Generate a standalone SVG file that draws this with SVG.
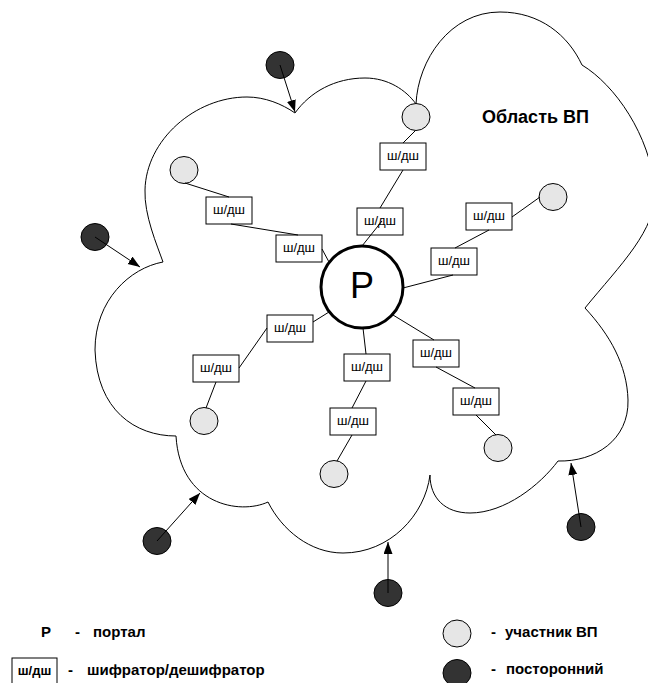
<svg xmlns="http://www.w3.org/2000/svg" width="648" height="683" viewBox="0 0 648 683">
<style>
.cloud{fill:none;stroke:#000;stroke-width:1}
.box rect{fill:#fff;stroke:#000;stroke-width:1}
.box text{font-family:"Liberation Sans",Arial,sans-serif;font-size:13px;text-anchor:middle;fill:#000}
.mem{fill:#e6e6e6;stroke:#000;stroke-width:1}
.out{fill:#333;stroke:#000;stroke-width:1}
.ln{stroke:#000;stroke-width:1;fill:none}
.arr{stroke:#000;stroke-width:1;fill:none;marker-end:url(#ah)}
.lg{font-family:"Liberation Sans",Arial,sans-serif;font-size:15px;font-weight:bold;fill:#000}
</style>
<defs>
<marker id="ah" markerUnits="userSpaceOnUse" markerWidth="13" markerHeight="10" refX="12" refY="4.5" orient="auto">
<path d="M0,0 L12,4.5 L0,9 z" fill="#000"/>
</marker>
</defs>
<rect width="648" height="683" fill="#fff"/>
<g id="cloud">
<path class="cloud" d="M163,262 C157,245 144,215 145,190 C146,140 195,97 247,97 C265,97 282,104 295,113 C310,92 335,78 365,78 C388,78 406,90 416,104 C418,60 450,12 500,12 C540,12 568,35 582,65 C615,85 650,135 655,190 C657,230 620,265 585,308 C610,335 627,365 628,400 C629,440 595,462 558,461 C540,485 505,513 470,513 C445,513 430,498 430,475 C425,515 390,553 343,553 C310,553 282,530 268,502 C240,515 180,505 176,436 C135,436 97,410 95,350 C95,300 130,268 163,262 Z"/>
<text x="482" y="123" style="font-family:'Liberation Sans',Arial,sans-serif;font-size:18px;font-weight:bold">Область ВП</text>
</g>
<g id="portal">
<circle cx="362" cy="287" r="41" fill="#fff" stroke="#000" stroke-width="3"/>
<text x="362" y="298" style="font-family:'Liberation Sans',Arial,sans-serif;font-size:36px" text-anchor="middle">P</text>
</g>
<g id="boxA" class="box"><rect x="380" y="143" width="46" height="27"/><text x="403" y="160">ш/дш</text></g>
<g id="boxB" class="box"><rect x="206" y="197" width="46" height="27"/><text x="229" y="214">ш/дш</text></g>
<g id="boxC" class="box"><rect x="357" y="208" width="46" height="27"/><text x="380" y="225">ш/дш</text></g>
<g id="boxD" class="box"><rect x="466" y="203" width="46" height="27"/><text x="489" y="220">ш/дш</text></g>
<g id="boxE" class="box"><rect x="276" y="235" width="46" height="27"/><text x="299" y="252">ш/дш</text></g>
<g id="boxF" class="box"><rect x="431" y="248" width="46" height="27"/><text x="454" y="265">ш/дш</text></g>
<g id="boxG" class="box"><rect x="267" y="315" width="46" height="27"/><text x="290" y="332">ш/дш</text></g>
<g id="boxH" class="box"><rect x="193" y="355" width="46" height="27"/><text x="216" y="372">ш/дш</text></g>
<g id="boxI" class="box"><rect x="344" y="354" width="46" height="27"/><text x="367" y="371">ш/дш</text></g>
<g id="boxJ" class="box"><rect x="413" y="340" width="46" height="27"/><text x="436" y="357">ш/дш</text></g>
<g id="boxK" class="box"><rect x="453" y="388" width="46" height="27"/><text x="476" y="405">ш/дш</text></g>
<g id="boxL" class="box"><rect x="330" y="408" width="46" height="27"/><text x="353" y="425">ш/дш</text></g>
<g id="member1"><ellipse class="mem" cx="416" cy="117" rx="14" ry="13.5"/></g>
<g id="member2"><ellipse class="mem" cx="184" cy="170" rx="14" ry="13.5"/></g>
<g id="member3"><ellipse class="mem" cx="553" cy="197" rx="14" ry="13.5"/></g>
<g id="member4"><ellipse class="mem" cx="204" cy="421" rx="14" ry="13.5"/></g>
<g id="member5"><ellipse class="mem" cx="334" cy="474" rx="14" ry="13.5"/></g>
<g id="member6"><ellipse class="mem" cx="498" cy="448" rx="14" ry="13.5"/></g>
<g id="outsider1"><ellipse class="out" cx="280" cy="65" rx="14" ry="13.5"/></g>
<g id="outsider2"><ellipse class="out" cx="95" cy="237" rx="14" ry="13.5"/></g>
<g id="outsider3"><ellipse class="out" cx="157" cy="541" rx="14" ry="13.5"/></g>
<g id="outsider4"><ellipse class="out" cx="388" cy="593" rx="14" ry="13.5"/></g>
<g id="outsider5"><ellipse class="out" cx="581" cy="527" rx="14" ry="13.5"/></g>
<g id="connectors">
<line class="ln" x1="415" y1="131" x2="403" y2="143"/>
<line class="ln" x1="403" y1="170" x2="380" y2="208"/>
<line class="ln" x1="382" y1="221" x2="362" y2="246"/>
<line class="ln" x1="185" y1="183" x2="229" y2="197"/>
<line class="ln" x1="231" y1="224" x2="298" y2="235"/>
<line class="ln" x1="322" y1="249" x2="329" y2="262"/>
<line class="ln" x1="540" y1="197" x2="512" y2="217"/>
<line class="ln" x1="489" y1="230" x2="455" y2="248"/>
<line class="ln" x1="453" y1="275" x2="403" y2="288"/>
<line class="ln" x1="393" y1="315" x2="434" y2="340"/>
<line class="ln" x1="436" y1="367" x2="475" y2="388"/>
<line class="ln" x1="476" y1="415" x2="496" y2="435"/>
<line class="ln" x1="363" y1="328" x2="366" y2="354"/>
<line class="ln" x1="366" y1="381" x2="352" y2="408"/>
<line class="ln" x1="352" y1="435" x2="337" y2="461"/>
<line class="ln" x1="329" y1="312" x2="313" y2="322"/>
<line class="ln" x1="267" y1="328" x2="239" y2="368"/>
<line class="ln" x1="216" y1="382" x2="206" y2="408"/>
<line class="arr" x1="280" y1="65" x2="295" y2="112"/>
<line class="arr" x1="95" y1="237" x2="140" y2="267"/>
<line class="arr" x1="157" y1="541" x2="200" y2="493"/>
<line class="arr" x1="388" y1="593" x2="388" y2="542"/>
<line class="arr" x1="581" y1="527" x2="571" y2="463"/>
</g>
<g id="legend">
<text class="lg" x="41" y="637">P</text>
<text class="lg" x="75" y="637">-</text>
<text class="lg" x="93" y="637">портал</text>
<rect x="12" y="658" width="45" height="26" fill="#fff" stroke="#000" stroke-width="1"/>
<text x="34.5" y="675" text-anchor="middle" style="font-family:'Liberation Sans',Arial,sans-serif;font-size:13px;font-weight:bold">ш/дш</text>
<text class="lg" x="68" y="675">-</text>
<text class="lg" x="87" y="675">шифратор/дешифратор</text>
<ellipse class="mem" cx="457" cy="633.5" rx="14" ry="13.5"/>
<text class="lg" x="491" y="637">-</text>
<text class="lg" x="505" y="637">участник ВП</text>
<ellipse class="out" cx="457" cy="673" rx="14" ry="13.5"/>
<text class="lg" x="491" y="674">-</text>
<text class="lg" x="506" y="674">посторонний</text>
</g>
</svg>
